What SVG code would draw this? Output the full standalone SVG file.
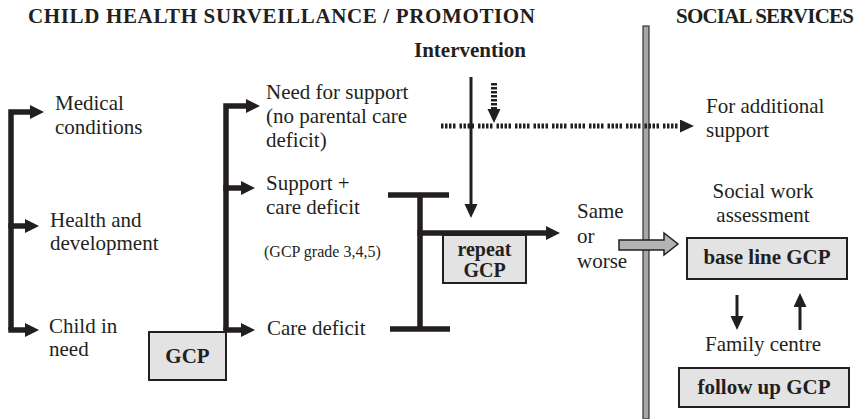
<svg xmlns="http://www.w3.org/2000/svg" width="864" height="419" viewBox="0 0 864 419" font-family="'Liberation Serif', 'Times New Roman', Times, serif">
<defs>
<style>
text{font-family:'Liberation Serif','Times New Roman',Times,serif;fill:#231f20}
.t{font-size:21px}
.b{font-size:21px;font-weight:bold}
.h{font-size:21px;font-weight:bold}
.s{font-size:16px}
.c{text-anchor:middle}
.thick{stroke:#231f20;stroke-width:5.5;fill:none}
.thin{stroke:#231f20;stroke-width:3;fill:none}
.box{fill:#e3e3e3;stroke:#231f20;stroke-width:2}
</style>
<marker id="ah" markerUnits="userSpaceOnUse" markerWidth="16" markerHeight="16" refX="3" refY="7" orient="auto" viewBox="0 0 16 16">
<path d="M0,0 L14,7 L0,14 z" fill="#231f20"/>
</marker>
<marker id="as" markerUnits="userSpaceOnUse" markerWidth="16" markerHeight="16" refX="3" refY="6.5" orient="auto" viewBox="0 0 16 16">
<path d="M0,0 L14,6.5 L0,13 z" fill="#231f20"/>
</marker>
</defs>

<g id="headers">
<text class="h" x="28" y="23" textLength="507" lengthAdjust="spacing">CHILD HEALTH SURVEILLANCE / PROMOTION</text>
<text class="h" x="676" y="23" textLength="178" lengthAdjust="spacing">SOCIAL SERVICES</text>
</g>

<g id="divider">
<rect x="643" y="26" width="6" height="393" fill="#a6a6a6" stroke="#333" stroke-width="1.2"/>
</g>

<g id="connectors">
<path class="thick" d="M11,330 V112 H33" marker-end="url(#ah)"/>
<path class="thick" d="M8.3,226 H28" marker-end="url(#ah)"/>
<path class="thick" d="M8.3,330 H28" marker-end="url(#ah)"/>
<path class="thick" d="M226,330 V106 H249" marker-end="url(#ah)"/>
<path class="thick" d="M223.3,188 H244" marker-end="url(#ah)"/>
<path class="thick" d="M223.3,330 H244" marker-end="url(#ah)"/>
<path class="thick" d="M388,195 H449 M420,195 V329 M390,329 H450"/>
<path class="thick" d="M417.3,233 H549" marker-end="url(#ah)"/>
<path class="thin" d="M471,77 V207" marker-end="url(#as)"/>
<path d="M494,83 V112" stroke="#231f20" stroke-width="6" stroke-dasharray="2.5 1.5" fill="none" marker-end="url(#as)"/>
<path d="M441,126 H683" stroke="#231f20" stroke-width="5" stroke-dasharray="2.5 1.5 2.5 1.5 2.5 1.5 2.5 4" fill="none" marker-end="url(#as)"/>
<path class="thin" d="M737,295 V319" marker-end="url(#as)"/>
<path class="thin" d="M800,330 V304" marker-end="url(#as)"/>
<polygon points="619,240 664,240 664,233 678,244 664,255 664,250 619,250" fill="#b3b3b3" stroke="#231f20" stroke-width="1.5"/>
</g>

<g id="n-medical"><text class="t" x="55" y="110">Medical</text><text class="t" x="55" y="134">conditions</text></g>
<g id="n-health"><text class="t" x="50" y="227">Health and</text><text class="t" x="50" y="250">development</text></g>
<g id="n-child"><text class="t" x="49" y="333">Child in</text><text class="t" x="49" y="356">need</text></g>
<g id="n-gcp"><rect class="box" x="149" y="332" width="77" height="48"/><text class="b c" x="187.5" y="363">GCP</text></g>
<g id="n-need"><text class="t" x="266" y="99">Need for support</text><text class="t" x="266" y="123">(no parental care</text><text class="t" x="266" y="147">deficit)</text></g>
<g id="n-support"><text class="t" x="266" y="190">Support +</text><text class="t" x="266" y="214">care deficit</text><text class="s" x="264" y="257">(GCP grade 3,4,5)</text></g>
<g id="n-care"><text class="t" x="267" y="335">Care deficit</text></g>
<g id="n-intervention"><text class="b c" x="470" y="57">Intervention</text></g>
<g id="n-repeat"><rect class="box" x="443" y="235" width="83" height="48"/><text class="b c" x="484.5" y="256" style="font-size:20px">repeat</text><text class="b c" x="484.5" y="277" style="font-size:20px">GCP</text></g>
<g id="n-same"><text class="t" x="577" y="218">Same</text><text class="t" x="577" y="243">or</text><text class="t" x="577" y="268">worse</text></g>
<g id="n-additional"><text class="t" x="706" y="113">For additional</text><text class="t" x="706" y="137">support</text></g>
<g id="n-social"><text class="t c" x="763" y="198">Social work</text><text class="t c" x="763" y="222">assessment</text></g>
<g id="n-baseline"><rect class="box" x="687" y="238" width="160" height="41"/><text class="b c" x="767" y="264">base line GCP</text></g>
<g id="n-family"><text class="t c" x="763" y="351">Family centre</text></g>
<g id="n-followup"><rect class="box" x="679" y="368" width="170" height="39"/><text class="b c" x="764" y="394">follow up GCP</text></g>
</svg>
